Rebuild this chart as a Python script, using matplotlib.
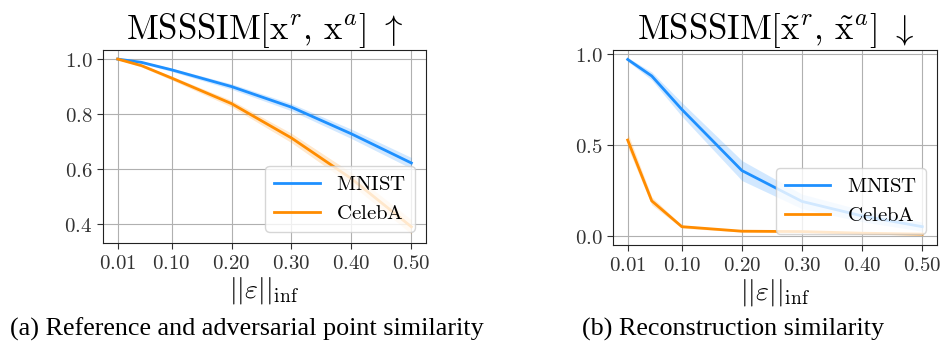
import matplotlib
matplotlib.use("Agg")
import matplotlib.pyplot as plt
import numpy as np

plt.rcParams['mathtext.fontset'] = 'cm'

eps = [0.01, 0.05, 0.10, 0.20, 0.30, 0.40, 0.50]
xticks = [0.01, 0.10, 0.20, 0.30, 0.40, 0.50]
xtick_labels = ['0.01', '0.10', '0.20', '0.30', '0.40', '0.50']

# (a) MSSSIM between reference and adversarial point
mnist_a = [1.0, 0.988, 0.961, 0.900, 0.825, 0.728, 0.622]
mnist_a_std = [0.001, 0.004, 0.006, 0.010, 0.013, 0.017, 0.020]
celeba_a = [1.0, 0.976, 0.931, 0.838, 0.713, 0.565, 0.39]
celeba_a_std = [0.001, 0.005, 0.007, 0.012, 0.017, 0.022, 0.026]

# (b) MSSSIM between reconstructions
mnist_b = [0.972, 0.881, 0.697, 0.360, 0.190, 0.110, 0.051]
mnist_b_std = [0.010, 0.022, 0.038, 0.055, 0.040, 0.032, 0.025]
celeba_b = [0.528, 0.193, 0.051, 0.026, 0.024, 0.015, 0.010]
celeba_b_std = [0.040, 0.022, 0.008, 0.005, 0.004, 0.003, 0.003]

blue = '#1e90ff'
orange = '#ff8c00'

def m(s):
    return r'$\mathrm{' + s + '}$'

fig = plt.figure(figsize=(9.42, 3.43), dpi=100)
ax1 = fig.add_axes([0.1093, 0.2915, 0.343, 0.5627])
ax2 = fig.add_axes([0.6507, 0.2857, 0.344, 0.5685])

def draw(ax, mn, ms, c, cs):
    mn, ms, c, cs = map(np.array, (mn, ms, c, cs))
    ax.fill_between(eps, mn - ms, mn + ms, color=blue, alpha=0.2, lw=0)
    ax.plot(eps, mn, color=blue, lw=2, label=m('MNIST'))
    ax.fill_between(eps, c - cs, c + cs, color=orange, alpha=0.2, lw=0)
    ax.plot(eps, c, color=orange, lw=2, label=m('CelebA'))
    ax.grid(True, color='#b0b0b0', lw=0.8)
    ax.set_axisbelow(True)
    ax.set_xticks(xticks)
    ax.set_xticklabels([m(t) for t in xtick_labels])
    ax.set_xlim(-0.0145, 0.5245)
    ax.tick_params(labelsize=15, length=4, colors='#333333', labelcolor='#333333')
    for s in ax.spines.values():
        s.set_color('#222222')
    ax.set_xlabel(r'$||\varepsilon||_{\mathrm{inf}}$', fontsize=20, labelpad=1)
    ax.legend(loc='lower right', fontsize=15, handlelength=2.2,
              borderaxespad=0.55, labelspacing=0.45)

draw(ax1, mnist_a, mnist_a_std, celeba_a, celeba_a_std)
ax1.set_ylim(0.331, 1.033)
ax1.set_yticks([0.4, 0.6, 0.8, 1.0])
ax1.set_yticklabels([m(t) for t in ['0.4', '0.6', '0.8', '1.0']])
ax1.set_title(r'$\mathrm{MSSSIM}[\mathrm{x}^r,\, \mathrm{x}^a]\ \uparrow$', fontsize=25, pad=4)

draw(ax2, mnist_b, mnist_b_std, celeba_b, celeba_b_std)
ax2.set_ylim(-0.05, 1.024)
ax2.set_yticks([0.0, 0.5, 1.0])
ax2.set_yticklabels([m(t) for t in ['0.0', '0.5', '1.0']])
ax2.set_title(r'$\mathrm{MSSSIM}[\tilde{\mathrm{x}}^r,\, \tilde{\mathrm{x}}^a]\ \downarrow$', fontsize=25, pad=4)

fig.text(0.011, 0.022, '(a) Reference and adversarial point similarity',
         family='Liberation Serif', fontsize=18.8)
fig.text(0.618, 0.022, '(b) Reconstruction similarity',
         family='Liberation Serif', fontsize=18.8)

fig.savefig('out.png', dpi=100)
